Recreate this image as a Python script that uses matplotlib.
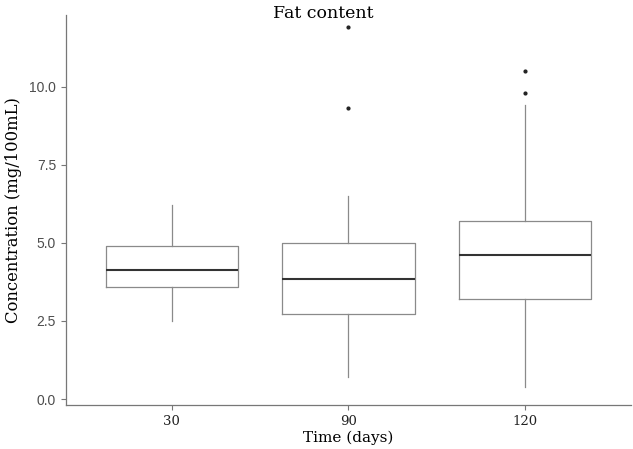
import matplotlib
matplotlib.use("Agg")
import matplotlib.pyplot as plt

categories = ["30", "90", "120"]
whislo = [2.5, 0.7, 0.4]
q1 = [3.6, 2.72, 3.2]
med = [4.14, 3.85, 4.6]
q3 = [4.9, 5.0, 5.7]
whishi = [6.22, 6.5, 9.42]
fliers = [[], [9.33, 11.92], [9.8, 10.5]]

stats = []
for i, c in enumerate(categories):
    stats.append(dict(label=c, whislo=whislo[i], q1=q1[i], med=med[i],
                      q3=q3[i], whishi=whishi[i], fliers=fliers[i]))

fig = plt.figure(figsize=(6.33, 4.49), dpi=100)
ax = fig.add_axes([0.104, 0.098, 0.893, 0.869])

gray = "#8a8a8a"
ax.bxp(stats, positions=[1, 2, 3], widths=0.75, showcaps=False,
       boxprops=dict(color=gray, linewidth=0.9),
       whiskerprops=dict(color=gray, linewidth=0.9),
       medianprops=dict(color="#333333", linewidth=1.5),
       flierprops=dict(marker="o", markersize=2.0, markerfacecolor="#222222",
                       markeredgecolor="#222222", linestyle="none"))

ax.set_xlim(0.4, 3.6)
ax.set_ylim(-0.19, 12.3)
ax.set_yticks([0, 2.5, 5, 7.5, 10])
ax.set_yticklabels(["0.0", "2.5", "5.0", "7.5", "10.0"],
                   fontfamily="Liberation Sans", fontsize=10, color="#4d4d4d")
ax.set_xticks([1, 2, 3])
ax.set_xticklabels(categories, fontfamily="DejaVu Serif", fontsize=9.5, color="#222222")

for s in ["top", "right"]:
    ax.spines[s].set_visible(False)
for s in ["left", "bottom"]:
    ax.spines[s].set_color("#777777")
    ax.spines[s].set_linewidth(0.9)
ax.tick_params(axis="both", color="#777777", length=3.5, width=0.8)

ax.set_xlabel("Time (days)", fontfamily="DejaVu Serif", fontsize=11, labelpad=2)
ax.set_ylabel("Concentration (mg/100mL)", fontfamily="DejaVu Serif", fontsize=11.8, labelpad=5)
fig.text(0.51, 0.988, "Fat content", ha="center", va="top", fontfamily="DejaVu Serif", fontsize=12.5)

fig.savefig("out.png", dpi=100)
